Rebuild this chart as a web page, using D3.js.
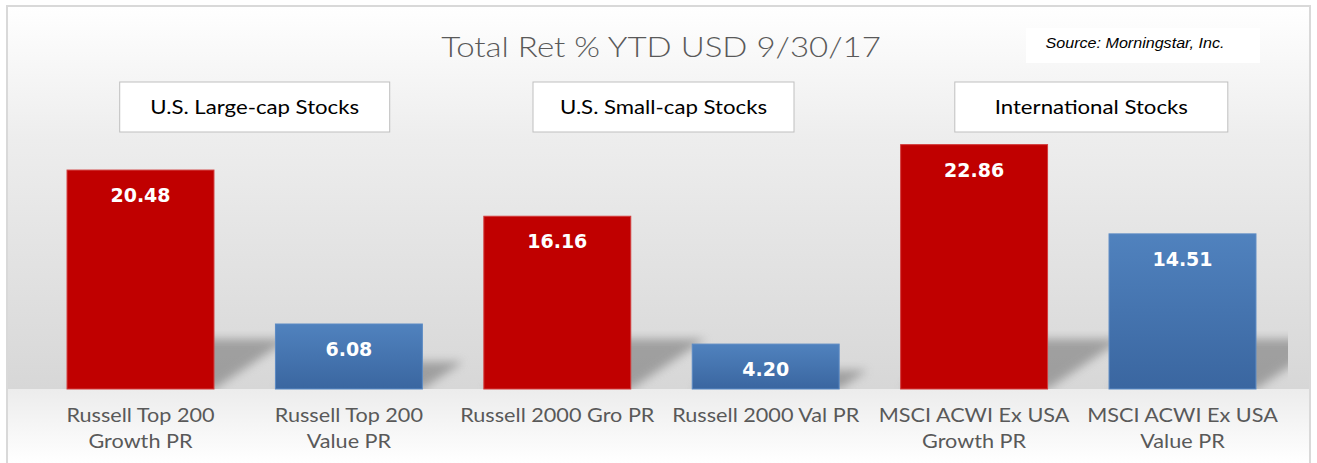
<!DOCTYPE html>
<html lang="en">
  <head>
    <meta charset="utf-8">
    <title>Total Ret % YTD USD 9/30/17</title>
    <script type="text/javascript" src="https://cdn.jsdelivr.net/npm/d3@7"></script>
    <style>
      body { margin: 0; background: #ffffff; }
      svg { display: block; }
    </style>
  </head>
  <body>
    <script type="text/javascript">
      var width = 1317;
      var height = 463;

      // data
      var categories = [
        ["Russell Top 200", "Growth PR"],
        ["Russell Top 200", "Value PR"],
        ["Russell 2000 Gro PR"],
        ["Russell 2000 Val PR"],
        ["MSCI ACWI Ex USA", "Growth PR"],
        ["MSCI ACWI Ex USA", "Value PR"]
      ];
      var values = [20.48, 6.08, 16.16, 4.20, 22.86, 14.51];
      var styles = ["growth", "value", "growth", "value", "growth", "value"];
      var groups = ["U.S. Large-cap Stocks", "U.S. Small-cap Stocks", "International Stocks"];
      var groupMembers = [[0, 1], [2, 3], [4, 5]];
      var title = "Total Ret % YTD USD 9/30/17";
      var source = "Source: Morningstar, Inc.";

      // layout
      var baseline = 389;
      var labelFont = "Lato, 'Open Sans', sans-serif";
      var groupBoxShift = [10, 2, 13];
      var groupBoxWidth = [270, 261, 273];

      var xScale = d3.scaleBand()
                     .domain(d3.range(values.length))
                     .range([36.3, 1286.7])
                     .paddingInner(0.295)
                     .paddingOuter(0.1475);
      var yScale = d3.scaleLinear()
                     .domain([0, 25])
                     .range([baseline, baseline - 25 * 10.69]);

      var svg = d3.select("body")
            .append("svg")
            .attr("width", width)
            .attr("height", height);

      var defs = svg.append("defs");

      var bgTop = defs.append("linearGradient")
          .attr("id", "bgTop").attr("x1", 0).attr("y1", 0).attr("x2", 0).attr("y2", 1);
      bgTop.append("stop").attr("offset", "0%").attr("stop-color", "#ffffff");
      bgTop.append("stop").attr("offset", "35%").attr("stop-color", "#ededed");
      bgTop.append("stop").attr("offset", "100%").attr("stop-color", "#d7d7d7");

      var bgBottom = defs.append("linearGradient")
          .attr("id", "bgBottom").attr("x1", 0).attr("y1", 0).attr("x2", 0).attr("y2", 1);
      bgBottom.append("stop").attr("offset", "0%").attr("stop-color", "#ececec");
      bgBottom.append("stop").attr("offset", "100%").attr("stop-color", "#ffffff");

      var blueGrad = defs.append("linearGradient")
          .attr("id", "blueGrad").attr("x1", 0).attr("y1", 0).attr("x2", 0).attr("y2", 1);
      blueGrad.append("stop").attr("offset", "0%").attr("stop-color", "#5082be");
      blueGrad.append("stop").attr("offset", "100%").attr("stop-color", "#3a66a0");

      defs.append("filter")
          .attr("id", "blur")
          .attr("x", "-50%").attr("y", "-50%").attr("width", "200%").attr("height", "200%")
        .append("feGaussianBlur")
          .attr("stdDeviation", 5);

      defs.append("clipPath")
          .attr("id", "plotClip")
        .append("rect")
          .attr("x", 36).attr("y", 0)
          .attr("width", 1288 - 36).attr("height", baseline);

      // background
      svg.append("rect")
         .attr("x", 7).attr("y", 6)
         .attr("width", 1303).attr("height", baseline - 6)
         .attr("fill", "url(#bgTop)");
      svg.append("rect")
         .attr("x", 7).attr("y", baseline)
         .attr("width", 1303).attr("height", height - baseline)
         .attr("fill", "url(#bgBottom)");
      svg.append("rect")
         .attr("x", 7).attr("y", 6)
         .attr("width", 1303).attr("height", height + 10)
         .attr("fill", "none")
         .attr("stroke", "#d9d9d9")
         .attr("stroke-width", 2);

      // title
      svg.append("text")
         .attr("transform", "translate(661,57) scale(1.18,1)")
         .attr("text-anchor", "middle")
         .attr("font-family", labelFont)
         .attr("font-weight", 300)
         .attr("font-size", "28px")
         .attr("fill", "#595959")
         .text(title);

      // source box
      svg.append("rect")
         .attr("x", 1026).attr("y", 28)
         .attr("width", 234).attr("height", 35)
         .attr("fill", "#ffffff");
      svg.append("text")
         .attr("transform", "translate(1135,48) scale(1.15,1)")
         .attr("text-anchor", "middle")
         .attr("font-family", "'Liberation Sans', Arial, sans-serif")
         .attr("font-style", "italic")
         .attr("font-size", "14px")
         .attr("fill", "#000000")
         .text(source);

      // group boxes
      var groupBox = svg.selectAll("g.group")
         .data(groups)
         .enter()
         .append("g")
         .attr("class", "group")
         .attr("transform", function(d, i) {
           var m = groupMembers[i];
           var cx = (xScale(m[0]) + xScale(m[1]) + xScale.bandwidth()) / 2 + groupBoxShift[i];
           return "translate(" + cx + ",0)";
         });
      groupBox.append("rect")
         .attr("x", function(d, i) { return -groupBoxWidth[i] / 2; })
         .attr("y", 82)
         .attr("width", function(d, i) { return groupBoxWidth[i]; })
         .attr("height", 50)
         .attr("fill", "#ffffff")
         .attr("stroke", "#bfbfbf")
         .attr("stroke-width", 1);
      groupBox.append("text")
         .attr("transform", "translate(0,114) scale(1.11,1)")
         .attr("text-anchor", "middle")
         .attr("font-family", labelFont)
         .attr("font-size", "20px")
         .attr("fill", "#000000")
         .text(function(d) { return d; });

      // perspective shadows behind the bars
      svg.append("g")
         .attr("clip-path", "url(#plotClip)")
         .selectAll("path")
         .data(values)
         .enter()
         .append("path")
         .attr("d", function(d, i) {
           var h = baseline - yScale(d);
           var sh = Math.min(h * 0.42, 50);
           var dx = sh * 1.5;
           var x0 = xScale(i), x1 = xScale(i) + xScale.bandwidth();
           return "M" + x0 + "," + baseline +
                  "L" + x1 + "," + baseline +
                  "L" + (x1 + dx) + "," + (baseline - sh) +
                  "L" + (x0 + dx) + "," + (baseline - sh) + "Z";
         })
         .attr("fill", "#808080")
         .attr("opacity", 0.65)
         .attr("filter", "url(#blur)");

      // bars
      svg.selectAll("rect.bar")
         .data(values)
         .enter()
         .append("rect")
         .attr("class", "bar")
         .attr("x", function(d, i) { return xScale(i); })
         .attr("y", function(d) { return yScale(d); })
         .attr("width", xScale.bandwidth())
         .attr("height", function(d) { return baseline - yScale(d); })
         .attr("fill", function(d, i) { return styles[i] == "growth" ? "#c00000" : "url(#blueGrad)"; })
         .attr("stroke", function(d, i) { return styles[i] == "growth" ? "#d23b3b" : "#5b8ac4"; })
         .attr("stroke-width", 1);

      // value labels
      svg.selectAll("text.value")
         .data(values)
         .enter()
         .append("text")
         .attr("class", "value")
         .attr("x", function(d, i) { return xScale(i) + xScale.bandwidth() / 2; })
         .attr("y", function(d) { return yScale(d) + 32; })
         .attr("text-anchor", "middle")
         .attr("font-family", "'DejaVu Sans', Verdana, sans-serif")
         .attr("font-weight", "bold")
         .attr("font-size", "19px")
         .attr("fill", "#ffffff")
         .text(function(d) { return d.toFixed(2); });

      // category labels
      svg.selectAll("g.cat")
         .data(categories)
         .enter()
         .append("g")
         .attr("class", "cat")
         .attr("transform", function(d, i) {
           return "translate(" + (xScale(i) + xScale.bandwidth() / 2) + ",0) scale(1.17,1)";
         })
         .append("text")
         .attr("text-anchor", "middle")
         .attr("font-family", labelFont)
         .attr("font-size", "18.5px")
         .attr("fill", "#595959")
         .each(function(lines) {
           var t = d3.select(this);
           lines.forEach(function(line, j) {
             t.append("tspan")
              .attr("x", 0)
              .attr("y", 422 + j * 26)
              .text(line);
           });
         });
    </script>
  </body>
</html>
